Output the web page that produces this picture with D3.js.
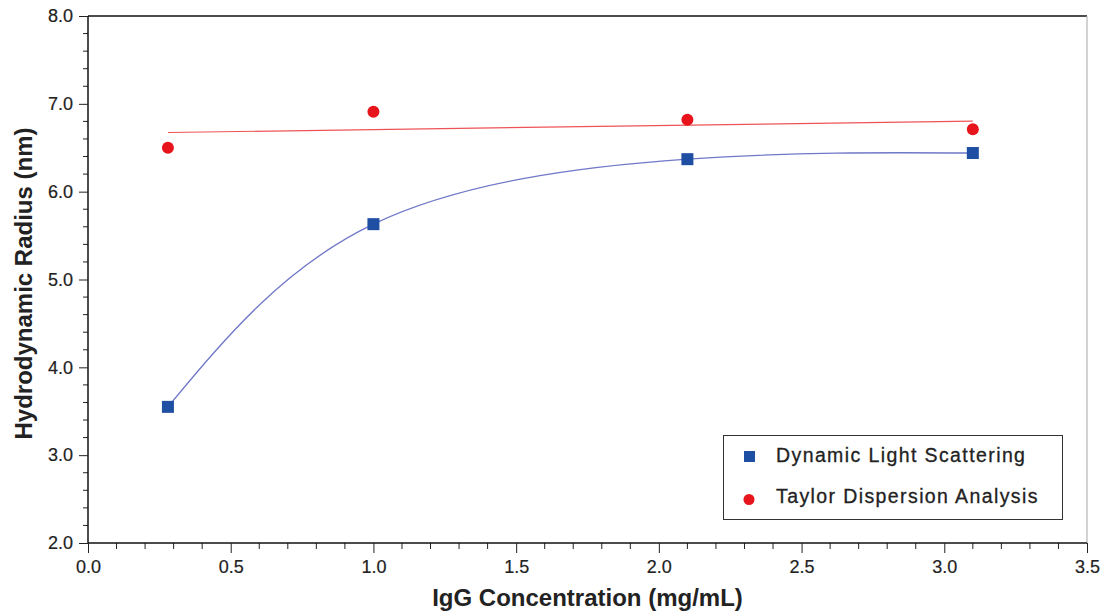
<!DOCTYPE html>
<html>
<head>
<meta charset="utf-8">
<script src="https://cdn.jsdelivr.net/npm/d3@7"></script>
<style>
  body { margin: 0; background: #fff; }
  svg text { font-family: "Liberation Sans", Arial, sans-serif; fill: #222; }
</style>
</head>
<body>
<svg id="chart" width="1107" height="616"></svg>
<script>
// concentrations (mg/mL)
const conc = [0.28, 1.0, 2.1, 3.1];
// hydrodynamic radius (nm)
const dls = [3.55, 5.63, 6.37, 6.44];
const tda = [6.50, 6.91, 6.82, 6.71];
const seriesNames = ["Dynamic Light Scattering", "Taylor Dispersion Analysis"];
const xTicks = [0, 0.5, 1.0, 1.5, 2.0, 2.5, 3.0, 3.5];
const yTicks = [2, 3, 4, 5, 6, 7, 8];

const svg = d3.select("#chart");
const pl = 88, pr = 1087, pt = 16, pb = 543;

const x = d3.scaleLinear().domain([0, 3.5]).range([pl, pr]);
const y = d3.scaleLinear().domain([2, 8]).range([pb, pt]);

// frame
svg.append("line").attr("x1", pl).attr("x2", pr).attr("y1", pt).attr("y2", pt)
  .attr("stroke", "#111").attr("stroke-width", 1.3);
svg.append("line").attr("x1", pr).attr("x2", pr).attr("y1", pt).attr("y2", pb)
  .attr("stroke", "#bbb").attr("stroke-width", 1.3);

// minor ticks
const xMinor = d3.range(0, 35).map(d => d / 10).filter(d => Math.round(d * 10) % 5 !== 0);
const yMinor = d3.range(20, 80, 2).map(d => d / 10).filter(d => Math.round(d * 10) % 10 !== 0);

svg.append("g").selectAll("line").data(xMinor).join("line")
  .attr("x1", d => x(d)).attr("x2", d => x(d))
  .attr("y1", pb).attr("y2", pb + 6)
  .attr("stroke", "#222");
svg.append("g").selectAll("line").data(yMinor).join("line")
  .attr("x1", pl - 5).attr("x2", pl)
  .attr("y1", d => y(d)).attr("y2", d => y(d))
  .attr("stroke", "#222");

const xAxis = svg.append("g")
  .attr("transform", `translate(0,${pb})`)
  .call(d3.axisBottom(x).tickValues(xTicks).tickFormat(d3.format(".1f")).tickSize(10).tickPadding(7));
const yAxis = svg.append("g")
  .attr("transform", `translate(${pl},0)`)
  .call(d3.axisLeft(y).tickValues(yTicks).tickFormat(d3.format(".1f")).tickSize(9).tickPadding(6));

[xAxis, yAxis].forEach(a => {
  a.select(".domain").attr("stroke", "#111").attr("stroke-width", 1.5);
  a.selectAll(".tick line").attr("stroke", "#222");
  a.selectAll("text").style("font-family", "Liberation Sans, Arial, sans-serif")
    .style("font-size", "18px").attr("fill", "#222")
    .attr("stroke", "#222").attr("stroke-width", 0.2);
});
yAxis.select(".domain").attr("d", `M0,${pb}V${pt}`);
xAxis.select(".domain").attr("d", `M${pl},0H${pr}`);

// axis titles
svg.append("text")
  .attr("x", (pl + pr) / 2).attr("y", 606)
  .attr("text-anchor", "middle")
  .style("font-size", "24px").style("font-weight", "bold")
  .text("IgG Concentration (mg/mL)");
svg.append("text")
  .attr("transform", `translate(32,${(pt + pb) / 2 + 4}) rotate(-90)`)
  .attr("text-anchor", "middle")
  .style("font-size", "24px").style("font-weight", "bold")
  .text("Hydrodynamic Radius (nm)");

// TDA linear fit
const mx = d3.mean(conc), my = d3.mean(tda);
const slope = d3.sum(conc, (c, i) => (c - mx) * (tda[i] - my)) / d3.sum(conc, c => (c - mx) ** 2);
const icpt = my - slope * mx;
const xr = d3.extent(conc);
svg.append("path")
  .attr("d", d3.line()(xr.map(c => [x(c), y(icpt + slope * c)])))
  .attr("stroke", "#e8282c").attr("stroke-opacity", 0.8)
  .attr("stroke-width", 1.2).attr("fill", "none");

// DLS smooth curve
const dlsPts = conc.map((c, i) => [x(c), y(dls[i])]);
svg.append("path")
  .attr("d", d3.line().curve(d3.curveNatural)(dlsPts))
  .attr("stroke", "#7078c8").attr("stroke-width", 1.3).attr("fill", "none");

// markers
svg.append("g").selectAll("rect").data(dlsPts).join("rect")
  .attr("x", d => d[0] - 6).attr("y", d => d[1] - 6)
  .attr("width", 12).attr("height", 12)
  .attr("fill", "#1f4fa3");
svg.append("g").selectAll("circle").data(conc.map((c, i) => [x(c), y(tda[i])])).join("circle")
  .attr("cx", d => d[0]).attr("cy", d => d[1]).attr("r", 6)
  .attr("fill", "#e8141c");

// legend
const lg = svg.append("g");
lg.append("rect").attr("x", 723.5).attr("y", 435.5).attr("width", 339).attr("height", 84)
  .attr("fill", "#fff").attr("stroke", "#333").attr("stroke-width", 1);
lg.append("rect").attr("x", 744).attr("y", 451).attr("width", 11).attr("height", 11).attr("fill", "#1f4fa3");
lg.append("circle").attr("cx", 749).attr("cy", 499.5).attr("r", 5.5).attr("fill", "#e8141c");
lg.selectAll("text.lt").data(seriesNames).join("text")
  .attr("class", "lt")
  .attr("x", 776).attr("y", (d, i) => 462 + i * 41)
  .style("font-size", "19.5px").style("letter-spacing", "1.4px")
  .attr("stroke", "#222").attr("stroke-width", 0.3)
  .text(d => d);
</script>
</body>
</html>
